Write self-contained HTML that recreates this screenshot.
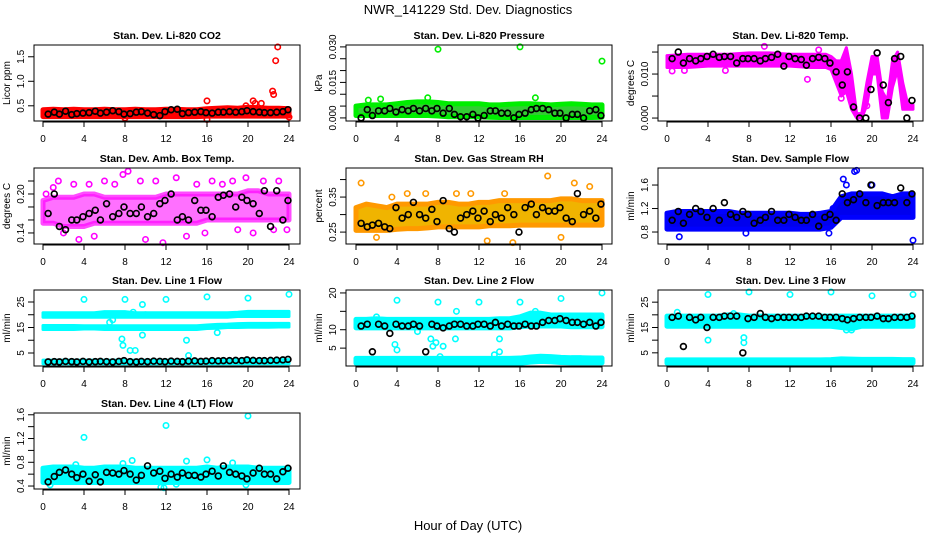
<!DOCTYPE html>
<html><head><meta charset="utf-8"><style>
html,body{margin:0;padding:0;background:#fff}
svg{display:block;font-family:"Liberation Sans",sans-serif}
</style></head><body>
<svg id="chart" width="936" height="540" viewBox="0 0 936 540">
<rect width="936" height="540" fill="#fff"/>
<text x="468" y="14" font-size="13" text-anchor="middle">NWR_141229  Std. Dev. Diagnostics</text>
<text x="468" y="530" font-size="13" text-anchor="middle">Hour of Day (UTC)</text>
</svg>
<script>
// shared data
const xTicks=[0,4,8,12,16,20,24];
const bandHours=[0,1,2,3,4,5,6,7,8,9,10,11,12,13,14,15,16,17,18,19,20,21,22,23,24];
const blackHours=[0.5,1.1,1.6,2.2,2.8,3.3,3.9,4.5,5.1,5.6,6.2,6.8,7.4,7.9,8.5,9.1,9.6,10.2,10.8,11.4,11.9,12.5,13.1,13.6,14.2,14.8,15.4,15.9,16.5,17.1,17.6,18.2,18.8,19.4,19.9,20.5,21.1,21.6,22.2,22.8,23.4,23.9];

// P1 CO2
const co2Lo=[0.28,0.28,0.28,0.28,0.28,0.28,0.28,0.28,0.28,0.28,0.28,0.28,0.28,0.28,0.28,0.28,0.29,0.29,0.29,0.29,0.29,0.29,0.29,0.29,0.29];
const co2Hi=[0.42,0.43,0.42,0.43,0.42,0.42,0.43,0.42,0.42,0.43,0.42,0.42,0.43,0.43,0.42,0.42,0.44,0.45,0.46,0.45,0.47,0.46,0.45,0.45,0.44];
const co2OutX=[16,16,8,20.5,20.7,21.3,22.4,22.5,22.7,22.9,24,19.8];
const co2OutY=[0.6,0.22,0.25,0.6,0.55,0.55,0.8,0.73,1.42,1.7,0.27,0.5];
const co2Black=[0.33,0.37,0.33,0.39,0.32,0.34,0.35,0.36,0.39,0.35,0.37,0.4,0.38,0.33,0.34,0.37,0.38,0.35,0.32,0.3,0.38,0.42,0.43,0.34,0.36,0.37,0.38,0.36,0.35,0.37,0.37,0.38,0.37,0.38,0.4,0.38,0.37,0.36,0.36,0.37,0.38,0.42];
// P2 pressure
const presLo=[0.001,0.001,0.001,0.001,0.001,0.001,0.001,0.001,0.0008,0.0005,0.0005,0.0005,0.0005,0.0003,0.0002,0.0002,0.0002,0.0002,0.0002,0.0002,0.0002,0.0002,0.0002,0.0002,0.0003];
const presHi=[0.005,0.0055,0.0055,0.0055,0.006,0.0065,0.0068,0.0068,0.0065,0.006,0.006,0.006,0.006,0.0055,0.0055,0.0058,0.006,0.006,0.0058,0.0055,0.0058,0.006,0.0058,0.0055,0.0055];
const presOutX=[8,16,24,17.5,7,1.2,2.4];
const presOutY=[0.029,0.030,0.024,0.0085,0.0085,0.0075,0.008];
const presBlack=[0,0.0035,0.001,0.003,0.003,0.004,0.0025,0.0035,0.003,0.004,0.003,0.004,0.003,0.004,0.002,0.004,0.0015,0.0005,0.0005,0.0015,0,0.001,0.003,0.003,0.002,0.002,0,0.0015,0.002,0.0035,0.004,0.004,0.0035,0.002,0.002,0,0.0015,0.0015,0,0.003,0.0035,0.001];
// P3 temp
const tempHours=[0,2,4,6,8,10,12,14,15.5,16,16.5,17,17.5,18,18.5,19,19.5,20,20.5,21,21.5,22,22.5,23,23.5,24];
const tempLo=[0.0115,0.0115,0.0118,0.0118,0.0118,0.0118,0.0118,0.0115,0.0115,0.011,0.008,0.005,0.006,0.002,0,0,0.003,0.01,0.01,0,0,0.007,0.011,0.002,0.002,0.002];
const tempHi=[0.0142,0.0145,0.0145,0.0145,0.0148,0.0148,0.0145,0.0145,0.0145,0.014,0.013,0.013,0.016,0.01,0.001,0.001,0.008,0.014,0.014,0.006,0.004,0.013,0.015,0.008,0.003,0.003];
const tempOutX=[0.5,1.7,9.5,13.7,14.8,17,19.5,5.7];
const tempOutY=[0.0107,0.0108,0.0163,0.0088,0.0155,0.0045,0.0028,0.0108];
const tempBlack=[0.0135,0.015,0.0125,0.0135,0.013,0.0135,0.014,0.0145,0.0138,0.014,0.014,0.0125,0.0135,0.0135,0.0135,0.013,0.0135,0.0138,0.0145,0.0118,0.014,0.0135,0.0133,0.012,0.0135,0.0138,0.0135,0.0125,0.0105,0.0075,0.0105,0.0025,0,0,0.0065,0.0148,0.0075,0.0035,0.0135,0.014,0,0.004];
// P4 amb box temp
const ambLo=[0.155,0.155,0.15,0.15,0.15,0.155,0.155,0.155,0.155,0.155,0.155,0.155,0.155,0.155,0.155,0.155,0.16,0.16,0.16,0.16,0.16,0.16,0.16,0.16,0.16];
const ambHi=[0.19,0.195,0.195,0.195,0.2,0.2,0.195,0.195,0.195,0.195,0.195,0.195,0.2,0.2,0.2,0.2,0.2,0.2,0.2,0.2,0.205,0.205,0.2,0.2,0.2];
const ambOutX=[0.3,1,1.5,2,3,3.5,4.5,5,6,7,7.8,8.3,9.5,10,11,11.7,13,14,15,15.8,16.5,17.5,18.5,19,19.8,20.5,21.5,22.5,23,23.8];
const ambOutY=[0.2,0.21,0.22,0.14,0.215,0.13,0.215,0.135,0.22,0.215,0.23,0.235,0.22,0.13,0.22,0.125,0.225,0.135,0.215,0.14,0.22,0.215,0.22,0.145,0.225,0.14,0.22,0.145,0.22,0.145];
const ambBlack=[0.17,0.2,0.15,0.145,0.16,0.16,0.165,0.17,0.175,0.16,0.185,0.165,0.17,0.18,0.17,0.17,0.18,0.165,0.17,0.185,0.19,0.2,0.16,0.165,0.16,0.19,0.175,0.175,0.165,0.195,0.198,0.2,0.18,0.195,0.19,0.185,0.17,0.205,0.15,0.205,0.16,0.19];
// P5 RH
const rhLo=[0.255,0.255,0.255,0.255,0.258,0.26,0.26,0.262,0.265,0.265,0.265,0.265,0.265,0.268,0.268,0.268,0.27,0.27,0.27,0.27,0.27,0.27,0.27,0.27,0.27];
const rhHi=[0.32,0.33,0.325,0.32,0.33,0.33,0.33,0.33,0.335,0.335,0.33,0.33,0.335,0.335,0.34,0.34,0.34,0.34,0.34,0.34,0.345,0.345,0.34,0.34,0.34];
const rhOutX=[0.5,5,6.8,18.7,21.3,22.8,12.8,15.3,2,11.2,9.8,14.5,20,3.5];
const rhOutY=[0.39,0.36,0.36,0.41,0.39,0.38,0.225,0.22,0.235,0.36,0.36,0.36,0.235,0.35];
const rhBlack=[0.275,0.265,0.27,0.275,0.265,0.26,0.32,0.29,0.3,0.335,0.3,0.29,0.315,0.28,0.34,0.26,0.25,0.29,0.3,0.31,0.29,0.31,0.28,0.3,0.29,0.32,0.3,0.25,0.32,0.33,0.3,0.32,0.31,0.31,0.32,0.29,0.28,0.36,0.3,0.31,0.29,0.33];
// P6 sample flow
const flowLo=[0.85,0.85,0.85,0.85,0.85,0.85,0.85,0.85,0.85,0.85,0.85,0.85,0.85,0.85,0.85,0.85,0.88,1.05,1.05,1.05,1.05,1.05,1.05,1.05,1.05];
const flowHi=[1.12,1.15,1.15,1.15,1.15,1.15,1.15,1.12,1.12,1.12,1.12,1.12,1.12,1.1,1.1,1.12,1.15,1.4,1.45,1.45,1.45,1.45,1.4,1.45,1.45];
const flowOutX=[17.2,18.3,18.5,1.2,24,15.8,17.5,20,7.7,16.2];
const flowOutY=[1.7,1.83,1.85,0.72,0.66,0.78,1.6,1.6,0.78,1.2];
const flowBlack=[1.0,1.15,0.95,1.1,1.2,1.15,1.05,1.2,1.0,1.3,1.1,1.05,1.15,1.1,0.95,1.0,1.05,1.15,1.0,1.0,1.1,1.05,1.0,1.0,1.1,0.9,1.05,1.1,1.0,1.45,1.3,1.35,1.45,1.3,1.6,1.25,1.3,1.3,1.3,1.55,1.3,1.45];
// P7 line1
const l1aLo=[0.8,0.8,0.8,0.8,0.8,0.8,0.8,0.8,0.8,0.8,0.8,0.8,0.8,0.8,0.8,0.8,0.8,0.8,0.8,0.8,0.8,0.8,0.8,0.8,0.8];
const l1aHi=[2.2,2.2,2.2,2.2,2.2,2.2,2.2,2.2,2.2,2.2,2.2,2.2,2.2,2.2,2.2,2.2,2.3,2.4,2.4,2.4,2.5,2.4,2.4,2.4,2.4];
const l1bLo=[14.2,14.2,14.2,14.2,14.4,14.4,14.2,14.2,14.2,14.2,14.2,14.2,14.2,14.2,14.2,14.2,14.6,14.7,15,15,15.1,15.1,15.1,15.2,15.2];
const l1bHi=[15.8,15.8,15.8,15.8,15.7,15.7,15.7,15.7,15.7,15.7,15.7,15.7,15.7,15.7,15.7,15.7,16,16.2,16.3,16.5,16.6,16.6,16.6,16.6,16.6];
const l1cLo=[19,19,19,19,19,19,19,19,19,19,19,19,19,19,19,19,19,19,19,19.3,19.3,19.3,19.3,19.3,19.3];
const l1cHi=[20.8,20.8,20.8,20.8,20.8,20.8,21.2,21.2,21.2,20.8,20.8,20.8,20.8,20.8,20.8,20.8,20.8,20.8,20.8,21,21.3,21.3,21.3,21.3,21.3];
const l1OutX=[4,8,12,16,20,24,7.7,7.8,8.5,9,9.7,9.7,14,14.2,17,6.5,8.8,10,6.8];
const l1OutY=[26,26,26,27,26.5,28,10.5,8,6,6,24,12,10,4,13,17,21,20,18];
const l1Black=[1.5,1.6,1.5,1.7,1.6,1.5,1.7,1.5,1.6,1.7,1.6,1.5,1.7,2.0,1.6,1.5,1.7,1.6,1.8,1.7,1.6,1.8,1.7,1.6,1.8,1.9,1.7,1.8,2.0,1.9,2.0,2.0,2.1,2.0,2.3,2.1,2.0,2.0,2.1,2.2,2.3,2.5];
// P8 line2
const l2aLo=[0.9,0.9,0.9,0.9,0.9,0.9,0.9,0.9,0.9,0.9,0.9,0.9,0.9,0.9,0.9,0.9,0.9,1.2,1.4,1.3,1.1,1,1,1,1];
const l2aHi=[2.2,2.2,2.2,2.2,2.2,2.2,2.2,2.2,2.2,2.2,2.2,2.2,2.2,2.2,2.2,2.2,2.3,2.6,2.8,2.7,2.5,2.4,2.4,2.3,2.3];
const l2bLo=[10.5,10.5,10.5,10.5,10.5,10.5,10.5,10.5,10.5,10.5,10.5,10.5,10.5,10.5,10.5,10.5,10.8,11,11,11,11,10.8,10.8,10.8,10.8];
const l2bHi=[12.8,12.8,13,12.8,12.8,12.8,12.8,12.8,12.8,12.8,12.8,12.8,12.8,12.8,13,13,13.5,14.5,14.5,14,14,14,14,14,14];
const l2OutX=[4,8,12,16,20,24,3.8,4,7.3,7.5,7.8,8.2,8.5,9.7,9.8,13.5,14,14,2,6,17.5];
const l2OutY=[18,17.5,17.5,17.5,18.5,20,6,4.5,7.5,5.5,6.5,2.7,5.5,7.5,15,3.2,7.5,4,13.5,9.5,15];
const l2Black=[11,11.5,4,11.5,11,9,11.5,11,11,11.5,11,4,11.5,11,10.5,11,11.5,11.5,11,11,11.5,11.5,11,12,11,11.5,11,11,11.5,11,11,12,12.5,12.5,13,12.5,12,12,11.5,12,11,12];
// P9 line3
const l3aLo=[0.9,0.9,0.9,0.9,0.9,0.9,0.9,0.9,0.9,0.9,0.9,0.9,0.9,0.9,0.9,0.9,0.9,1,1,1,1,1,1,1,1];
const l3aHi=[2.2,2.2,2.2,2.2,2.2,2.2,2.2,2.2,2.2,2.2,2.2,2.2,2.2,2.2,2.2,2.2,2.3,2.6,2.5,2.4,2.4,2.4,2.4,2.3,2.3];
const l3bLo=[15.5,15.5,15.5,15.5,15.5,15.5,15.5,15.5,15.5,15.5,15.5,15.5,15.5,15.5,15.5,15.5,15.5,15,14.5,15.5,15.5,15.5,15.5,15.5,15.5];
const l3bHi=[19.5,19.5,19.5,19.5,19.5,19.5,20,20,19.5,19.5,19.5,19.5,19.5,19.5,19.5,19.5,19.5,19.5,19.5,19.5,19.5,19.5,19.5,19.5,19.5];
const l3OutX=[4,8,12,16,20,24,1,7.5,7.5,4,17.5,18,6.5];
const l3OutY=[28,29,28,29,27.5,28,21,11,9,10,14,14,20.5];
const l3Black=[19,19.5,7.5,19,18,19,15,19,19,19.5,19.5,19.5,5,18.5,19,20.5,19,18.5,19,19,19,19,19,19.5,19.5,19.5,19,19,19,18.5,18,18.5,19,19,19,19.5,18.5,18.5,19,19,19,19.5];
// P10 line4
const l4Lo=[0.46,0.46,0.46,0.46,0.46,0.46,0.46,0.46,0.46,0.46,0.46,0.46,0.46,0.46,0.46,0.46,0.46,0.46,0.46,0.46,0.46,0.46,0.46,0.46,0.46];
const l4Hi=[0.7,0.72,0.72,0.72,0.7,0.7,0.72,0.72,0.72,0.7,0.7,0.7,0.7,0.7,0.7,0.7,0.72,0.7,0.72,0.72,0.72,0.7,0.7,0.7,0.7];
const l4OutX=[4,12,20,8.7,14,16,11.5,11.8,0.7,13,3.2,7.8,18.5,19.8];
const l4OutY=[1.22,1.42,1.58,0.83,0.82,0.84,0.38,0.37,0.42,0.43,0.76,0.78,0.79,0.42];
const l4Black=[0.47,0.56,0.63,0.67,0.6,0.54,0.6,0.48,0.59,0.47,0.63,0.62,0.6,0.66,0.6,0.5,0.58,0.74,0.62,0.65,0.53,0.6,0.55,0.62,0.58,0.58,0.55,0.6,0.65,0.57,0.74,0.63,0.6,0.57,0.52,0.62,0.7,0.6,0.6,0.52,0.64,0.7];

// y-axis tick values per panel
const co2Ticks=[0.5,1.0,1.5], co2TickLabels=["0.5","1.0","1.5"];
const presTicks=[0,0.005,0.01,0.015,0.02,0.025,0.03], presTickLabels=["0.000","","","0.015","","","0.030"];
const tempTicks=[0,0.005,0.01,0.015], tempTickLabels=["0.000","","0.010",""];
const ambTicks=[0.14,0.16,0.18,0.2,0.22], ambTickLabels=["0.14","","","0.20",""];
const rhTicks=[0.25,0.3,0.35,0.4], rhTickLabels=["0.25","","0.35",""];
const flowTicks=[0.8,1.2,1.6], flowTickLabels=["0.8","1.2","1.6"];
const l1Ticks=[5,10,15,20,25], l1TickLabels=["5","","15","","25"];
const l2Ticks=[5,10,15,20], l2TickLabels=["5","10","","20"];
const l3Ticks=[5,10,15,20,25], l3TickLabels=["5","","15","","25"];
const l4Ticks=[0.4,0.6,0.8,1.0,1.2,1.4,1.6], l4TickLabels=["0.4","","0.8","","1.2","","1.6"];

const NS="http://www.w3.org/2000/svg";
const svg=document.getElementById('chart');
const COLS=[{l:34,r:300,x0:43},{l:346,r:612,x0:356},{l:658,r:923,x0:667}];
const ROWS=[45,168,290,413];
const H=76, PXH=246/24;
function mk(tag,attrs,parent){const e=document.createElementNS(NS,tag);for(const k in attrs)e.setAttribute(k,attrs[k]);(parent||svg).appendChild(e);return e;}

function panel(idx,p){
  const c=COLS[idx%3], top=ROWS[Math.floor(idx/3)], bot=top+H;
  const g=mk('g',{});
  
  
  const xs=h=>c.x0+h*PXH;
  const ys=v=>bot-(v-p.ymin)/(p.ymax-p.ymin)*H;
  const t=mk('text',{x:(c.l+c.r)/2,y:top-6,'font-size':10.5,'font-weight':'bold','text-anchor':'middle'},g);
  t.textContent=p.title;
  
  
  const clip=mk('g',{},g);
  (p.bands||[]).forEach(b=>{
    const hrs=b.h||bandHours;
    let pts=hrs.map((h,i)=>xs(h)+','+ys(b.hi[i]));
    pts=pts.concat(hrs.map((h,i)=>xs(h)+','+ys(b.lo[i])).reverse());
    const poly=mk('polygon',{points:pts.join(' '),fill:p.fill,'fill-opacity':p.op||1,stroke:p.color,'stroke-opacity':p.op||1,'stroke-width':p.sw||5,'stroke-linejoin':'round'},clip);
    
    
  });
  p.outX.forEach((x,i)=>{
    const ci=mk('circle',{cx:xs(x),cy:ys(p.outY[i]),r:2.7,fill:'none',stroke:p.color,'stroke-width':1.6},clip);
    
    
  });
  blackHours.forEach((x,i)=>{
    const ci=mk('circle',{cx:xs(x),cy:ys(p.black[i]),r:2.9,fill:'none',stroke:'#000','stroke-width':1.7},clip);
    
    
  });
  const box=mk('rect',{x:c.l,y:top,width:c.r-c.l,height:H,fill:'none',stroke:'#000','stroke-width':1},g);
  
  
  mk('line',{x1:xs(0),x2:xs(24),y1:bot+1,y2:bot+1,stroke:'#000'},g);
  xTicks.forEach(h=>{
    mk('line',{x1:xs(h),x2:xs(h),y1:bot,y2:bot+6,stroke:'#000'},g);
    const tl=mk('text',{x:xs(h),y:bot+21,'font-size':10,'text-anchor':'middle'},g);
    tl.textContent=h;
    
    
  });
  mk('line',{x1:c.l,x2:c.l,y1:ys(p.ticks[0]),y2:ys(p.ticks[p.ticks.length-1]),stroke:'#000'},g);
  p.ticks.forEach((v,i)=>{
    const y=ys(v);
    mk('line',{x1:c.l-6,x2:c.l,y1:y,y2:y,stroke:'#000'},g);
    if(p.tickLabels[i]){
      const tl=mk('text',{x:0,y:0,'font-size':10,'text-anchor':'middle',transform:`translate(${c.l-10},${y}) rotate(-90)`},g);
      tl.textContent=p.tickLabels[i];
      
      
    }
  });
  const yl=mk('text',{x:0,y:0,'font-size':10,'text-anchor':'middle',transform:`translate(${c.l-24},${top+H/2}) rotate(-90)`},g);
  yl.textContent=p.ylabel;
  
  
}

panel(0,{name:'co2',title:'Stan. Dev. Li-820 CO2',ylabel:'Licor ppm',color:'#ff0000',fill:'#ff0000',ymin:0.19,ymax:1.74,bands:[{lo:co2Lo,hi:co2Hi}],outX:co2OutX,outY:co2OutY,black:co2Black,ticks:co2Ticks,tickLabels:co2TickLabels});
panel(1,{name:'pressure',title:'Stan. Dev. Li-820 Pressure',ylabel:'kPa',color:'#00ee00',fill:'#33cc33',ymin:-0.0013,ymax:0.0308,bands:[{lo:presLo,hi:presHi}],outX:presOutX,outY:presOutY,black:presBlack,ticks:presTicks,tickLabels:presTickLabels});
panel(2,{name:'temp',title:'Stan. Dev. Li-820 Temp.',ylabel:'degrees C',color:'#ff00ff',fill:'#ff00ff',sw:3,ymin:-0.00067,ymax:0.0166,bands:[{h:tempHours,lo:tempLo,hi:tempHi}],outX:tempOutX,outY:tempOutY,black:tempBlack,ticks:tempTicks,tickLabels:tempTickLabels});
panel(3,{name:'amb-box-temp',title:'Stan. Dev. Amb. Box Temp.',ylabel:'degrees C',color:'#ff00ff',fill:'#ff33ff',op:0.7,ymin:0.123,ymax:0.24,bands:[{lo:ambLo,hi:ambHi}],outX:ambOutX,outY:ambOutY,black:ambBlack,ticks:ambTicks,tickLabels:ambTickLabels});
panel(4,{name:'gas-rh',title:'Stan. Dev. Gas Stream RH',ylabel:'percent',color:'#ff9900',fill:'#f0b400',ymin:0.216,ymax:0.433,bands:[{lo:rhLo,hi:rhHi}],outX:rhOutX,outY:rhOutY,black:rhBlack,ticks:rhTicks,tickLabels:rhTickLabels});
panel(5,{name:'sample-flow',title:'Stan. Dev. Sample Flow',ylabel:'ml/min',color:'#0000ff',fill:'#0000ee',ymin:0.596,ymax:1.89,bands:[{lo:flowLo,hi:flowHi}],outX:flowOutX,outY:flowOutY,black:flowBlack,ticks:flowTicks,tickLabels:flowTickLabels});
panel(6,{name:'line1-flow',title:'Stan. Dev. Line 1 Flow',ylabel:'ml/min',color:'#00ffff',fill:'#00ffff',sw:3,ymin:-0.1,ymax:29.7,bands:[{lo:l1aLo,hi:l1aHi},{lo:l1bLo,hi:l1bHi},{lo:l1cLo,hi:l1cHi}],outX:l1OutX,outY:l1OutY,black:l1Black,ticks:l1Ticks,tickLabels:l1TickLabels});
panel(7,{name:'line2-flow',title:'Stan. Dev. Line 2 Flow',ylabel:'ml/min',color:'#00ffff',fill:'#00ffff',ymin:0.14,ymax:20.8,bands:[{lo:l2aLo,hi:l2aHi},{lo:l2bLo,hi:l2bHi}],outX:l2OutX,outY:l2OutY,black:l2Black,ticks:l2Ticks,tickLabels:l2TickLabels});
panel(8,{name:'line3-flow',title:'Stan. Dev. Line 3 Flow',ylabel:'ml/min',color:'#00ffff',fill:'#00ffff',ymin:-0.2,ymax:29.8,bands:[{lo:l3aLo,hi:l3aHi},{lo:l3bLo,hi:l3bHi}],outX:l3OutX,outY:l3OutY,black:l3Black,ticks:l3Ticks,tickLabels:l3TickLabels});
panel(9,{name:'line4-flow',title:'Stan. Dev. Line 4 (LT) Flow',ylabel:'ml/min',color:'#00ffff',fill:'#00ffff',ymin:0.35,ymax:1.63,bands:[{lo:l4Lo,hi:l4Hi}],outX:l4OutX,outY:l4OutY,black:l4Black,ticks:l4Ticks,tickLabels:l4TickLabels});
</script>
</body></html>
